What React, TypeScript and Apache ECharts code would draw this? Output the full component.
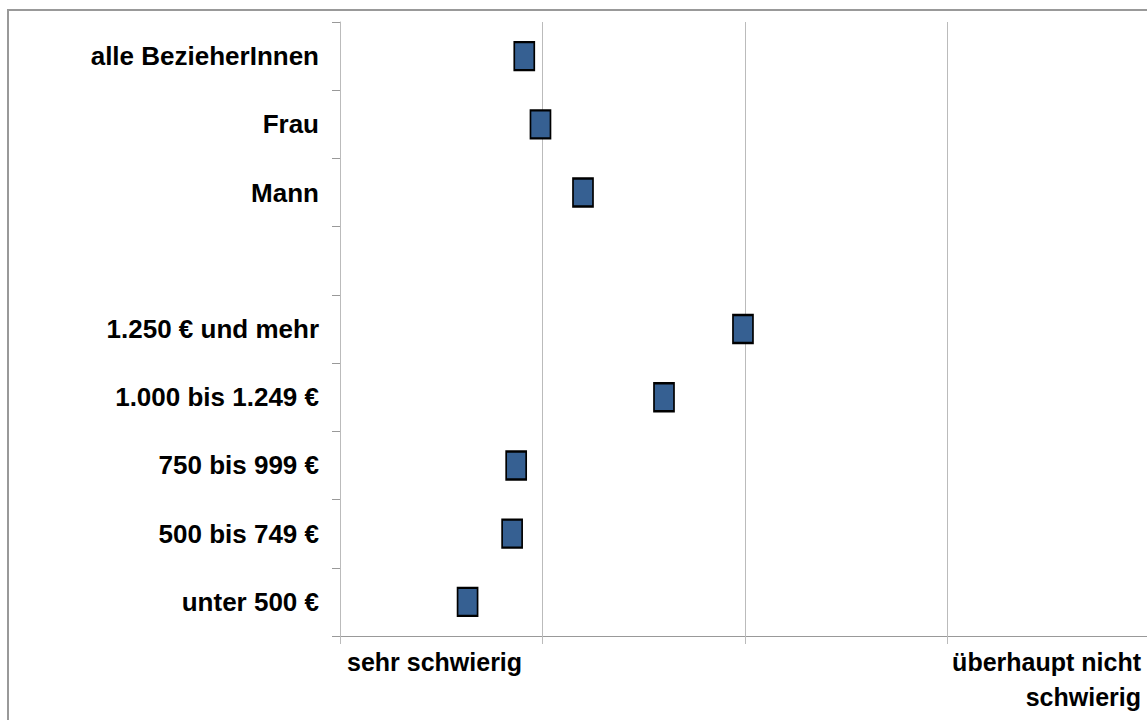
import React, { useEffect, useRef } from "react";
import * as echarts from "echarts";

const categories = [
  "alle BezieherInnen",
  "Frau",
  "Mann",
  "",
  "1.250 € und mehr",
  "1.000 bis 1.249 €",
  "750 bis 999 €",
  "500 bis 749 €",
  "unter 500 €",
];
const values: (number | null)[] = [1.91, 1.99, 2.2, null, 2.99, 2.6, 1.87, 1.85, 1.63];
const xTickLabels: Record<number, string> = {
  1: "sehr schwierig",
  5: "überhaupt nicht\nschwierig",
};

const FONT = "'Liberation Sans', Arial, sans-serif";

export default function App() {
  const ref = useRef<HTMLDivElement>(null);
  useEffect(() => {
    if (!ref.current) return;
    const chart = echarts.init(ref.current, null, { renderer: "svg" });
    const data = categories
      .map((c, i) => (values[i] == null ? null : [values[i], c]))
      .filter((d) => d !== null);
    chart.setOption({
      animation: false,
      backgroundColor: "#ffffff",
      grid: { left: 340, right: 10, top: 22, bottom: 84, containLabel: false },
      xAxis: {
        type: "value",
        min: 1,
        max: 5,
        interval: 1,
        axisLine: { show: true, lineStyle: { color: "#999999", width: 1 } },
        axisTick: { show: true, length: 8, lineStyle: { color: "#bbbbbb" } },
        splitLine: { show: true, lineStyle: { color: "#bbbbbb", width: 1 } },
        axisLabel: {
          formatter: (v: number) => xTickLabels[v] ?? "",
          fontFamily: FONT,
          fontWeight: "bold",
          fontSize: 25,
          color: "#000000",
          lineHeight: 35,
          margin: 8,
          padding: [0, 9, 0, 7],
          alignMinLabel: "left",
          alignMaxLabel: "right",
          showMinLabel: true,
          showMaxLabel: true,
          hideOverlap: false,
        },
      },
      yAxis: {
        type: "category",
        data: categories,
        inverse: true,
        boundaryGap: true,
        axisLine: { show: true, lineStyle: { color: "#bbbbbb", width: 1 } },
        axisTick: { show: true, length: 8, alignWithLabel: false, lineStyle: { color: "#999999" } },
        splitLine: { show: false },
        axisLabel: {
          interval: 0,
          fontFamily: FONT,
          fontWeight: "bold",
          fontSize: 26,
          color: "#000000",
          margin: 21,
        },
      },
      series: [
        {
          type: "scatter",
          symbol: "rect",
          symbolSize: [20, 28],
          itemStyle: { color: "#366092", borderColor: "#000000", borderWidth: 2, opacity: 1 },
          data,
        },
      ],
      graphic: [
        {
          type: "rect",
          silent: true,
          shape: { x: 8, y: 10, width: 1180, height: 740 },
          style: { fill: "none", stroke: "#999999", lineWidth: 2 },
          z: 100,
        },
      ],
    });
    return () => chart.dispose();
  }, []);
  return (
    <div
      style={{
        position: "absolute",
        left: 0,
        top: 0,
        width: 1147,
        height: 720,
        overflow: "hidden",
      }}
    >
      <div ref={ref} style={{ width: 1160, height: 720 }} />
    </div>
  );
}
